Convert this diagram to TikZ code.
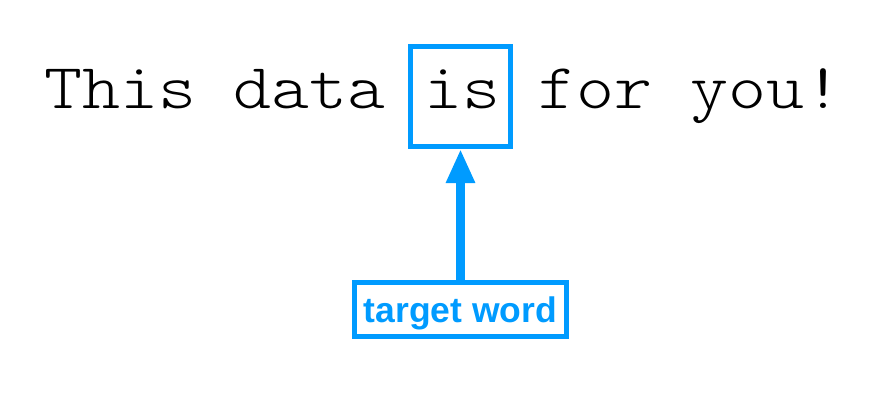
\documentclass[tikz,border=0pt]{standalone}
\usepackage{fontspec}
\usetikzlibrary{arrows.meta}
\newfontfamily\refmono{lmmonolt10-regular.otf}[FakeStretch=1.13]
\newfontfamily\refsans{Liberation Sans}
\definecolor{keyblue}{RGB}{0,155,255}
\begin{document}
\begin{tikzpicture}[x=1pt,y=-1pt,
  monotext/.style={font=\refmono\fontsize{64pt}{70pt}\selectfont, anchor=base west, inner sep=0pt, text=black},
  bluebox/.style={draw=keyblue, line width=5pt, inner sep=0pt},
  lbltext/.style={font=\refsans\bfseries\fontsize{35.5pt}{40pt}\selectfont, text=keyblue, text height=25.6pt, text depth=0pt},
  pointer/.style={draw=keyblue, line width=8.5pt, -{Triangle[length=34pt,width=27pt]}}]
\useasboundingbox (0,0) rectangle (883,409);
\node[monotext] (s1) at (44,109) {This data};
\node[monotext] (w) at (424.5,109) {is};
\node[monotext] (s2) at (538.35,109) {for you!};
\node[bluebox, minimum width=100pt, minimum height=100pt] (wbox) at (460.5,96.5) {};
\node[bluebox, lbltext, minimum width=212pt, minimum height=54pt] (lbl) at (460.5,309.5) {target word};
\draw[pointer] (lbl.north) -- (wbox.south);
\end{tikzpicture}
\end{document}
